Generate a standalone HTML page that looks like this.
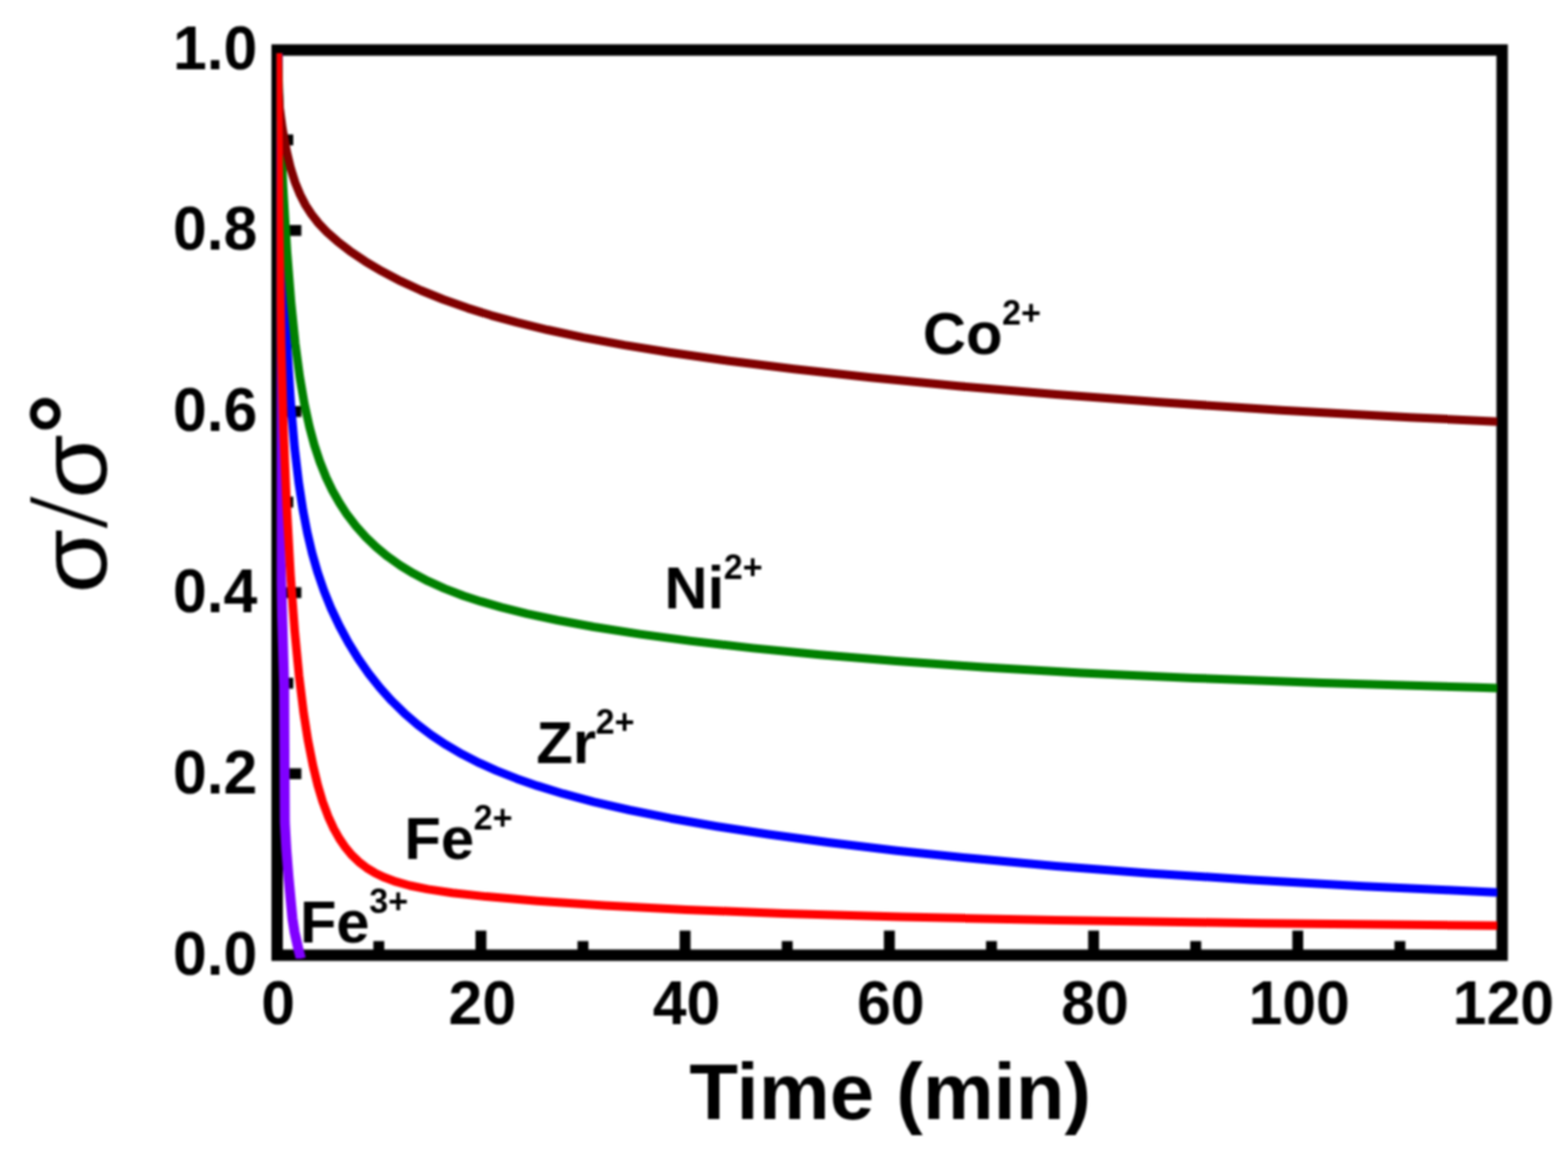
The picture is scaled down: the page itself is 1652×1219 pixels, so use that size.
<!DOCTYPE html>
<html><head><meta charset="utf-8"><title>Time (min)</title>
<style>
html,body{margin:0;padding:0;background:#fff;}
body{width:1652px;height:1219px;overflow:hidden;}
svg{display:block;}
text{font-family:"Liberation Sans",sans-serif;fill:#000;}
.tk{font-weight:bold;font-size:64px;}
.lb{font-weight:bold;font-size:63px;}
.sp{font-weight:bold;font-size:36px;}
.xt{font-weight:bold;font-size:84px;}
.yt{font-size:110px;}
</style></head><body>
<svg width="1652" height="1219" viewBox="0 0 1652 1219" style="filter:blur(1.3px)">
<defs><clipPath id="cp"><rect x="291.5" y="56" width="1286.0" height="954"/></clipPath></defs>
<rect x="0" y="0" width="1652" height="1219" fill="#fff"/>

<g stroke="#000" stroke-width="11.5" fill="none">
<line x1="399.1" y1="1006.0" x2="399.1" y2="991.5"/>
<line x1="506.7" y1="1006.0" x2="506.7" y2="980.5"/>
<line x1="614.2" y1="1006.0" x2="614.2" y2="991.5"/>
<line x1="721.8" y1="1006.0" x2="721.8" y2="980.5"/>
<line x1="829.4" y1="1006.0" x2="829.4" y2="991.5"/>
<line x1="937.0" y1="1006.0" x2="937.0" y2="980.5"/>
<line x1="1044.6" y1="1006.0" x2="1044.6" y2="991.5"/>
<line x1="1152.2" y1="1006.0" x2="1152.2" y2="980.5"/>
<line x1="1259.8" y1="1006.0" x2="1259.8" y2="991.5"/>
<line x1="1367.3" y1="1006.0" x2="1367.3" y2="980.5"/>
<line x1="1474.9" y1="1006.0" x2="1474.9" y2="991.5"/>
<line x1="291.5" y1="910.6" x2="306" y2="910.6"/>
<line x1="291.5" y1="815.2" x2="317.5" y2="815.2"/>
<line x1="291.5" y1="719.8" x2="309" y2="719.8"/>
<line x1="291.5" y1="624.4" x2="317.5" y2="624.4"/>
<line x1="291.5" y1="529.0" x2="309" y2="529.0"/>
<line x1="291.5" y1="433.6" x2="317.5" y2="433.6"/>
<line x1="291.5" y1="338.2" x2="309" y2="338.2"/>
<line x1="291.5" y1="242.8" x2="317.5" y2="242.8"/>
<line x1="291.5" y1="147.4" x2="309" y2="147.4"/>
</g>
<rect x="292" y="52.7" width="1290.6" height="953.6999999999999" fill="none" stroke="#000" stroke-width="12"/>
<g clip-path="url(#cp)" fill="none" stroke-width="9" stroke-linejoin="round">
<path d="M292.6,52.0 L294.7,461.8 L295.6,591.9 L299.4,722.0 L300.1,866.6 L301.7,895.5 L304.0,924.4 L308.1,967.6 L310.3,981.8 L314.5,1000.7 L317.0,1010.0" stroke="#8000ff" stroke-width="10.5"/>
<path d="M292.6,52.0 L295.8,191.0 L299.1,292.0 L302.7,368.4 L306.5,426.7 L310.4,471.8 L314.7,508.3 L319.3,538.2 L323.8,561.4 L328.9,583.0 L334.8,603.4 L341.4,622.6 L348.7,640.7 L357.6,659.5 L367.1,677.2 L377.4,693.9 L388.4,709.6 L400.2,724.5 L412.7,738.4 L425.9,751.3 L439.8,763.3 L454.5,774.5 L469.9,784.7 L486.8,794.6 L505.2,803.9 L522.9,811.9 L544.5,820.4 L566.1,827.9 L593.2,836.2 L625.6,844.8 L663.4,853.5 L706.7,862.2 L755.4,870.7 L809.4,879.0 L874.3,887.8 L944.6,896.2 L1025.7,904.6 L1112.2,912.4 L1209.5,919.9 L1317.6,927.0 L1436.5,933.7 L1571.7,939.9 L1582.5,940.4" stroke="#0000ff"/>
<path d="M292.6,52.0 L294.2,108.7 L298.2,195.9 L302.4,264.9 L306.7,318.8 L311.1,362.0 L315.8,397.0 L320.7,425.5 L326.0,449.6 L331.1,468.7 L337.0,486.5 L343.6,503.0 L350.2,516.8 L357.6,529.8 L365.6,542.1 L375.2,554.5 L385.5,566.0 L396.5,576.5 L408.2,586.2 L421.5,595.6 L435.4,604.1 L450.8,612.2 L468.5,620.1 L488.3,627.7 L506.7,633.7 L528.3,639.9 L555.3,646.6 L587.8,653.5 L625.6,660.5 L674.3,668.1 L728.3,675.4 L793.2,682.9 L863.5,689.8 L944.6,696.6 L1036.5,703.0 L1139.2,708.9 L1258.1,714.4 L1393.3,719.5 L1555.5,724.3 L1582.5,725.0" stroke="#008000"/>
<path d="M292.6,52.0 L293.4,96.0 L294.6,113.9 L297.5,135.3 L301.8,158.6 L306.2,177.2 L311.0,192.4 L316.2,205.0 L321.9,216.1 L328.2,225.8 L335.5,235.1 L344.3,244.3 L355.4,254.2 L368.6,264.4 L384.7,275.3 L402.4,285.8 L422.2,296.2 L443.5,306.0 L467.0,315.5 L492.7,324.6 L517.5,332.3 L544.5,339.7 L576.9,347.5 L614.8,355.6 L658.0,363.6 L706.7,371.5 L766.2,380.0 L836.4,388.8 L917.5,397.8 L1009.4,406.8 L1112.2,415.6 L1225.7,424.1 L1350.0,432.2 L1485.2,439.7 L1582.5,444.4" stroke="#800000"/>
<path d="M292.6,52.0 L294.2,241.9 L296.2,362.5 L298.7,452.7 L302.1,533.5 L306.1,605.8 L310.5,664.8 L315.1,712.3 L319.9,751.0 L324.5,780.2 L329.7,806.4 L334.8,827.4 L339.9,844.5 L345.8,860.3 L351.7,873.1 L357.6,883.6 L364.2,893.2 L370.8,901.1 L378.1,908.1 L386.2,914.3 L395.0,919.7 L405.3,924.6 L417.1,928.9 L431.7,933.0 L450.8,936.9 L476.6,940.7 L512.1,944.6 L566.1,949.2 L636.4,953.9 L722.9,958.4 L825.6,962.5 L950.0,966.1 L1112.2,969.5 L1328.4,972.7 L1582.5,975.3" stroke="#ff0000"/>
</g>
<text class="tk" x="271.2" y="1026.6" text-anchor="end">0.0</text>
<text class="tk" x="271.2" y="835.8" text-anchor="end">0.2</text>
<text class="tk" x="271.2" y="645.0" text-anchor="end">0.4</text>
<text class="tk" x="271.2" y="454.2" text-anchor="end">0.6</text>
<text class="tk" x="271.2" y="263.4" text-anchor="end">0.8</text>
<text class="tk" x="271.2" y="72.6" text-anchor="end">1.0</text>
<text class="tk" x="293.0" y="1079" text-anchor="middle">0</text>
<text class="tk" x="508.2" y="1079" text-anchor="middle">20</text>
<text class="tk" x="723.3" y="1079" text-anchor="middle">40</text>
<text class="tk" x="938.5" y="1079" text-anchor="middle">60</text>
<text class="tk" x="1153.7" y="1079" text-anchor="middle">80</text>
<text class="tk" x="1368.8" y="1079" text-anchor="middle">100</text>
<text class="tk" x="1584.0" y="1079" text-anchor="middle">120</text>
<text class="xt" x="937.9" y="1179" text-anchor="middle">Time (min)</text>
<g transform="translate(111.7,625) rotate(-90)"><text class="yt" transform="scale(1,0.914)" x="-0.2" y="0">σ</text><text x="68.5" y="0" style="font-family:'Liberation Serif',serif;font-size:120px">/</text><text class="yt" transform="scale(1,0.914)" x="99.4" y="0">σ</text><text x="167.7" y="-7" style="font-weight:bold;font-size:106.4px">°</text></g>
<text class="lb" x="972.3" y="373">Co<tspan class="sp" dx="-0.5" dy="-31">2+</tspan></text>
<text class="lb" x="700" y="641">Ni<tspan class="sp" dx="-0.5" dy="-31">2+</tspan></text>
<text class="lb" x="565" y="804.3">Zr<tspan class="sp" dx="-0.5" dy="-31">2+</tspan></text>
<text class="lb" x="426" y="904.9">Fe<tspan class="sp" dx="-0.5" dy="-31">2+</tspan></text>
<text class="lb" x="315.9" y="993.3">Fe<tspan class="sp" dx="-0.5" dy="-31">3+</tspan></text>
</svg></body></html>
